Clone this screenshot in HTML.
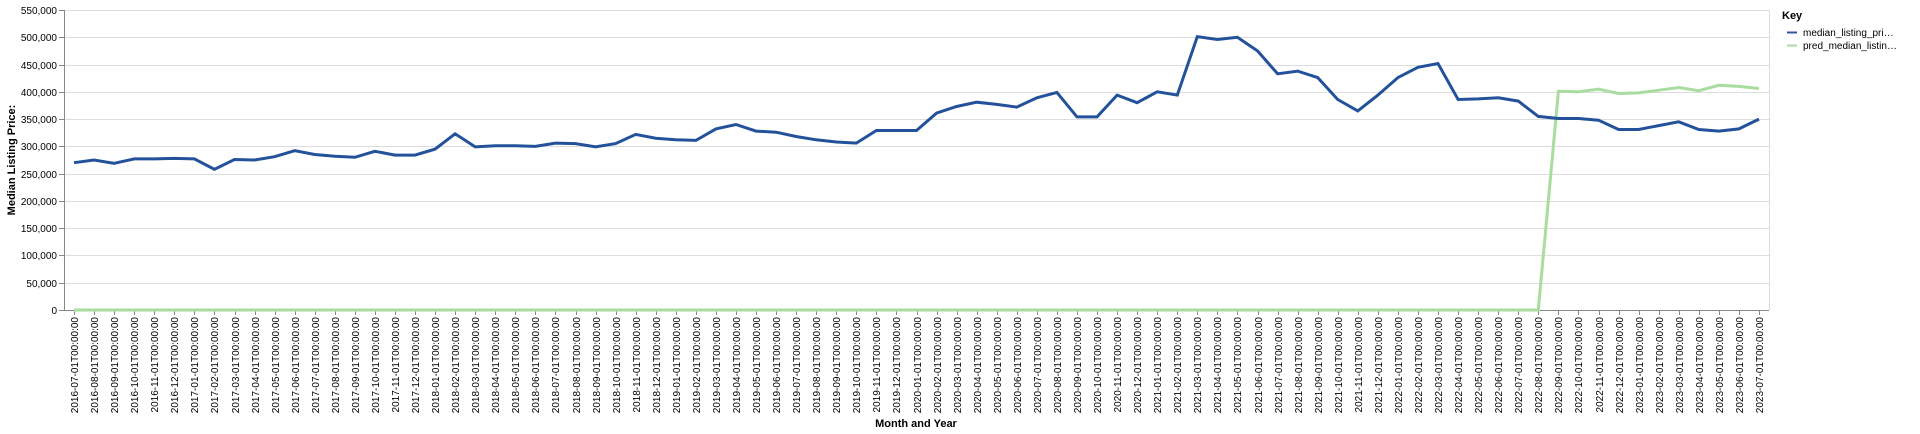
<!DOCTYPE html>
<html><head><meta charset="utf-8"><style>
html,body{margin:0;padding:0;background:#fff;}
svg{display:block;font-family:"Liberation Sans",sans-serif;}
</style></head><body>
<svg id="chart" width="1920" height="434" viewBox="0 0 1920 434" xmlns="http://www.w3.org/2000/svg">
<g id="grid"></g>
<g id="yaxis"></g>
<g id="xaxis"></g>
<g id="series"></g>
<text transform="translate(15,160) rotate(-90)" text-anchor="middle" font-size="11" font-weight="bold" fill="#000">Median Listing Price:</text>
<text x="916" y="427" text-anchor="middle" font-size="11" font-weight="bold" fill="#000">Month and Year</text>
<g>
<text x="1782" y="19" font-size="11" font-weight="bold" fill="#000">Key</text>
<g>
<line x1="1787" y1="32.5" x2="1797" y2="32.5" stroke="#2b5aa0" stroke-width="2"/>
<text x="1803" y="36" font-size="10" fill="#000">median_listing_pri…</text>
</g>
<g>
<line x1="1787" y1="45.5" x2="1797" y2="45.5" stroke="#a8dd9f" stroke-width="2"/>
<text x="1803" y="49" font-size="10" fill="#000">pred_median_listin…</text>
</g>
</g>
</svg>
<script>
const yTicks=[0,50000,100000,150000,200000,250000,300000,350000,400000,450000,500000,550000];
const medianValues=[270,275,269,277,277,278,277,258,276,275,281,292,285,282,280,291,284,284,295,323,299,301,
301,300,306,305,299,305,322,315,312,311,332,340,328,326,318,312,308,306,329,
329,329,361,373,381,377,372,389,399,354,354,394,380,400,394,501,
496,500,475,433,438,426,386,365,394,426,445,452,386,387,389,383,355,351,351,348,331,331,338,345,331,328,332,350];
const predValues=[0,0,0,0,0,0,0,0,0,0,0,0,0,0,0,0,0,0,0,0,0,0,0,0,0,0,0,0,0,0,0,0,0,0,0,0,0,0,0,0,0,0,0,0,0,0,0,0,0,0,0,0,0,0,0,0,0,0,0,0,0,0,0,0,0,0,0,0,0,0,0,0,0,0,
401,400,405,397,398,403,408,402,412,410,406];
const startYear=2016,startMonth=7;
const categories=[];
for(let i=0;i<medianValues.length;i++){const m=startMonth-1+i;const yy=startYear+Math.floor(m/12);const mm=(m%12)+1;categories.push(yy+'-'+String(mm).padStart(2,'0')+'-01T00:00:00');}

const NS='http://www.w3.org/2000/svg';
const L=64,R=1769,T=10,B=310,MAX=550000;
const step=(R-L)/categories.length;
const xs=i=>L+step*(i+0.5);
const ys=v=>B-(v/MAX)*(B-T);
function mk(tag,attrs,parent){const e=document.createElementNS(NS,tag);for(const k in attrs)e.setAttribute(k,attrs[k]);parent.appendChild(e);return e;}
const grid=document.getElementById('grid'),ya=document.getElementById('yaxis'),xa=document.getElementById('xaxis'),ser=document.getElementById('series');
yTicks.forEach(t=>{
  const y=Math.round(ys(t))+0.5;
  const g=mk('line',{x1:L,x2:R,y1:y,y2:y,stroke:'#ddd','stroke-width':1},grid);
  
  
  const tk=mk('line',{x1:L-5,x2:L,y1:y,y2:y,stroke:'#888','stroke-width':1},ya);
  
  
  const tx=mk('text',{x:L-7,y:y+3.5,'text-anchor':'end','font-size':10,fill:'#000'},ya);
  
  
  tx.textContent=t.toLocaleString('en-US');
});
mk('line',{x1:R+0.5,x2:R+0.5,y1:T,y2:B,stroke:'#ddd'},grid);
mk('line',{x1:L+0.5,x2:L+0.5,y1:T,y2:B+0.5,stroke:'#888'},ya);
mk('line',{x1:L,x2:R,y1:B+0.5,y2:B+0.5,stroke:'#888'},xa);
categories.forEach((c,i)=>{
  const x=Math.round(xs(i))+0.5;
  const tk=mk('line',{x1:x,x2:x,y1:B,y2:B+5,stroke:'#888'},xa);
  
  
  const tx=mk('text',{transform:`translate(${x+3.5},${B+7}) rotate(-90)`,'text-anchor':'end','font-size':10,fill:'#000'},xa);
  
  
  tx.textContent=c;
});
function line(vals,color,name){
  const d=vals.map((v,i)=>(i?'L':'M')+xs(i).toFixed(1)+','+ys(v*1000).toFixed(1)).join('');
  const p=mk('path',{d:d,fill:'none',stroke:color,'stroke-width':3,'stroke-linejoin':'miter'},ser);
  
  
}
line(predValues,'#a8dd9f','pred-median-listing-price-line');
line(medianValues,'#23529a','median-listing-price-line');
</script>
</body></html>
